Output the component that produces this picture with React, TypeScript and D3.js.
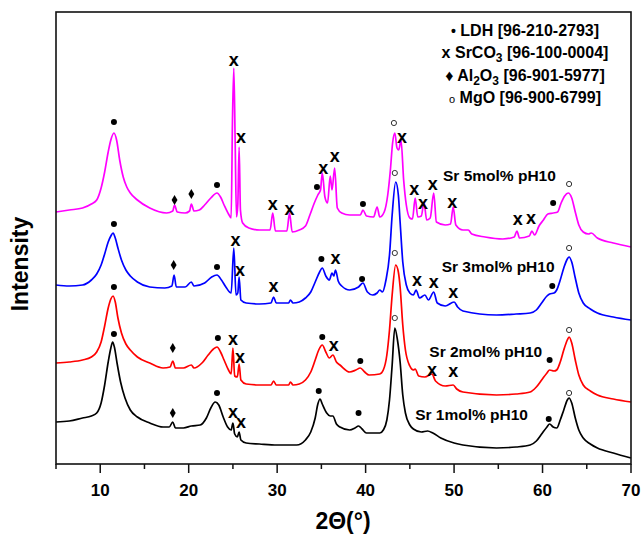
import React from "react";
import * as d3 from "d3";

// ---- data (2θ in degrees, intensity in a.u.) ----
const SR1_THETA = [5, 6.5, 8, 9, 9.6, 10.1, 10.5, 10.9, 11.2, 11.4, 11.6, 11.9, 12.3, 12.8, 13.4, 14.2, 15.6, 17.1, 17.8, 18.2, 18.5, 19.4, 20.3, 21.3, 22, 22.5, 23, 23.4, 23.9, 24.4, 24.8, 25, 25.2, 25.5, 25.7, 25.9, 26.5, 28, 30, 32.2, 33.2, 33.8, 34.3, 34.6, 34.85, 35.1, 35.6, 36, 36.3, 36.7, 37.1, 38.2, 38.8, 39.2, 39.6, 40.1, 41.6, 42, 42.4, 42.7, 43, 43.3, 43.6, 43.9, 44.2, 44.5, 45, 45.4, 46.3, 47, 47.6, 48.5, 50, 51, 54.8, 57, 58.6, 59.3, 59.9, 60.5, 60.8, 61.2, 61.6, 62, 62.4, 62.8, 63, 63.3, 63.7, 64.1, 64.6, 65.4, 66.2, 68, 70];
const SR1_I = [42, 43, 46, 48, 51, 61, 79, 102, 116, 122, 117, 101, 82, 66, 54, 47, 41, 37, 37, 42, 36, 36, 38, 39, 46, 56, 62, 59, 47, 37, 34, 41, 30, 27, 32, 24, 21, 20, 19, 19, 24, 32, 46, 60, 65, 60, 51, 48, 48, 40, 37, 34, 36, 38, 35, 31, 31, 34, 44, 64, 99, 136, 124, 102, 69, 51, 39, 35, 32, 33, 31, 26, 21, 19, 16, 17, 19, 23, 30, 37, 40, 37, 36, 44, 54, 64, 66, 61, 46, 34, 26, 20, 16, 11, 6];

const SR2_THETA = [5, 6.5, 8, 9, 9.6, 10.1, 10.5, 10.9, 11.2, 11.45, 11.7, 12, 12.4, 12.9, 13.4, 14.2, 15.6, 17.1, 17.9, 18.2, 18.5, 19.4, 20.3, 20.6, 21.5, 22.2, 22.8, 23.2, 23.6, 24, 24.5, 24.8, 25, 25.2, 25.5, 25.7, 25.9, 26.5, 28, 29.3, 29.6, 29.9, 31.3, 31.5, 31.8, 32.5, 33.2, 33.8, 34.3, 34.7, 35.1, 35.5, 35.9, 36.3, 36.7, 37.1, 38.2, 38.9, 39.4, 39.9, 40.4, 41.6, 42, 42.4, 42.7, 43, 43.4, 43.7, 43.9, 44.2, 44.5, 45, 45.4, 45.6, 46, 46.7, 47.5, 47.9, 49, 49.9, 50.3, 51, 54.8, 57, 58.6, 59.3, 59.9, 60.5, 60.8, 61.3, 61.6, 62, 62.4, 62.8, 63, 63.3, 63.7, 64.1, 64.6, 65.4, 66.2, 68, 70];
const SR2_I = [101, 102, 104, 107, 112, 122, 138, 156, 165, 168, 162, 146, 131, 120, 114, 107, 101, 96, 97, 103, 96, 96, 99, 96, 101, 109, 115, 117, 112, 104, 94, 90, 116, 88, 87, 100, 84, 80, 79, 79, 83, 79, 79, 82, 79, 80, 84, 92, 104, 114, 119, 112, 106, 109, 102, 99, 92, 94, 96, 92, 89, 90, 94, 109, 134, 169, 199, 192, 177, 139, 114, 98, 94, 95, 88, 87, 90, 83, 78, 79, 75, 72, 69, 70, 72, 77, 84, 91, 94, 93, 94, 102, 114, 124, 127, 121, 104, 89, 79, 73, 69, 65, 62];

const SR3_THETA = [5, 6.5, 8, 9, 9.6, 10.1, 10.5, 10.9, 11.2, 11.45, 11.7, 12, 12.4, 12.9, 13.4, 14.2, 15.6, 17.3, 18.1, 18.35, 18.6, 19.6, 20.3, 20.6, 21.8, 22.6, 23.2, 23.7, 24.2, 24.8, 25.1, 25.35, 25.55, 25.7, 25.9, 26.5, 28, 29.3, 29.6, 29.9, 31.3, 31.5, 31.8, 32.5, 33.2, 33.8, 34.3, 34.8, 35.1, 35.5, 35.9, 36.2, 36.4, 36.6, 36.9, 37.3, 38.2, 39.2, 39.7, 40.2, 40.8, 41.3, 41.6, 41.9, 42.3, 42.7, 43, 43.4, 43.7, 43.9, 44.2, 44.6, 45, 45.4, 45.7, 46.1, 46.7, 47.1, 47.7, 48.1, 49, 50, 50.4, 51, 54.8, 57, 58.6, 59.3, 59.9, 60.5, 60.8, 61.3, 61.6, 62, 62.4, 62.8, 63, 63.3, 63.7, 64.1, 64.6, 65.4, 66.2, 68, 70];
const SR3_I = [179, 178, 179, 184, 190, 199, 210, 222, 228, 231, 226, 216, 204, 194, 188, 182, 177, 176, 178, 189, 177, 177, 182, 178, 181, 187, 189, 184, 177, 171, 216, 169, 171, 187, 164, 161, 160, 161, 167, 161, 161, 164, 161, 162, 166, 172, 182, 192, 196, 188, 184, 191, 188, 194, 183, 178, 174, 177, 181, 172, 169, 171, 174, 172, 184, 209, 249, 282, 269, 242, 202, 179, 171, 169, 174, 166, 169, 164, 172, 161, 158, 162, 157, 153, 149, 150, 151, 154, 161, 168, 170, 171, 174, 184, 196, 205, 207, 202, 186, 171, 161, 155, 151, 147, 144];

const SR5_THETA = [5, 6.5, 8, 9, 9.6, 10.1, 10.5, 10.9, 11.2, 11.55, 11.85, 12.2, 12.6, 13, 13.4, 14.2, 15.6, 17.5, 18.2, 18.4, 18.7, 19.6, 20.1, 20.3, 20.6, 21.2, 21.8, 22.5, 23.2, 23.6, 24, 24.5, 24.8, 24.95, 25.1, 25.25, 25.4, 25.55, 25.7, 25.85, 26.1, 26.8, 28, 29.2, 29.5, 29.8, 31.1, 31.4, 31.7, 32.5, 33.2, 33.7, 34.2, 34.6, 34.9, 35.1, 35.4, 35.7, 36, 36.2, 36.5, 36.8, 37.3, 38.2, 39.4, 39.7, 40.1, 40.9, 41.3, 41.6, 42.1, 42.5, 42.8, 43.05, 43.3, 43.55, 43.75, 44, 44.3, 44.6, 45, 45.3, 45.6, 45.9, 46.3, 46.6, 46.9, 47.3, 47.7, 48, 49, 49.6, 49.9, 50.2, 51, 51.6, 52, 53.5, 55.5, 56.8, 57.1, 57.4, 58.5, 58.8, 59.1, 59.6, 60.1, 60.6, 61.2, 61.7, 62.1, 62.5, 62.9, 63.3, 63.7, 64.1, 64.6, 65.2, 65.5, 66.2, 68, 70];
const SR5_I = [252, 254, 256, 260, 264, 276, 292, 312, 324, 331, 324, 304, 287, 277, 271, 264, 256, 251, 253, 259, 252, 251, 253, 260, 253, 254, 259, 266, 271, 267, 259, 250, 246, 344, 396, 324, 247, 259, 317, 254, 241, 236, 234, 234, 251, 233, 233, 251, 232, 234, 238, 249, 261, 269, 274, 291, 267, 261, 288, 274, 296, 256, 251, 249, 249, 254, 248, 247, 257, 247, 252, 269, 294, 321, 331, 316, 314, 324, 284, 259, 246, 245, 266, 247, 248, 262, 244, 246, 271, 242, 239, 240, 257, 239, 234, 234, 230, 227, 225, 227, 233, 226, 228, 233, 229, 238, 244, 250, 251, 252, 261, 268, 271, 266, 252, 239, 232, 230, 231, 226, 221, 217];

// phase markers: [2θ, intensity, phase]  (d = LDH, x = SrCO3, a = Al2O3, m = MgO)
const SR5_MARKS: [number, number, string][] = [[11.55, 342, "d"], [18.4, 264, "a"], [20.3, 270, "a"], [23.2, 279, "d"], [25.1, 403, "x"], [25.9, 326, "x"], [29.5, 259, "x"], [31.4, 254, "x"], [34.5, 277, "d"], [35.2, 295, "x"], [36.5, 307, "x"], [39.7, 260, "d"], [43.2, 341, "m"], [44.1, 326, "x"], [45.5, 274, "x"], [46.5, 260, "x"], [47.6, 279, "x"], [49.8, 261, "x"], [57.2, 244, "x"], [58.7, 245, "x"], [61.2, 261, "d"], [63.0, 280, "m"]];
const SR3_MARKS: [number, number, string][] = [[11.55, 240, "d"], [18.3, 199, "a"], [23.2, 197, "d"], [25.3, 223, "x"], [25.8, 193, "x"], [29.6, 177, "x"], [35.0, 205, "d"], [36.6, 205, "x"], [39.6, 185, "d"], [43.3, 291, "m"], [45.8, 183, "x"], [47.7, 181, "x"], [49.9, 171, "x"], [61.1, 178, "d"], [63.0, 216, "m"]];
const SR2_MARKS: [number, number, string][] = [[11.55, 177, "d"], [18.2, 116, "a"], [23.3, 126, "d"], [25.0, 124, "x"], [25.8, 106, "x"], [35.1, 127, "d"], [36.4, 118, "x"], [39.4, 103, "d"], [43.3, 211, "m"], [47.5, 93, "x"], [49.9, 92, "x"], [60.8, 104, "d"], [63.0, 134, "m"]];
const SR1_MARKS: [number, number, string][] = [[11.55, 130, "d"], [18.2, 51, "a"], [23.2, 71, "d"], [25.0, 51, "x"], [25.9, 41, "x"], [34.7, 73, "d"], [39.2, 51, "d"], [43.3, 146, "m"], [60.7, 45, "d"], [63.0, 71, "m"]];

const SERIES_NAMES = ["Sr 1mol% pH10", "Sr 2mol% pH10", "Sr 3mol% pH10", "Sr 5mol% pH10"];
const SERIES_COLORS = ["#000000", "#ff0000", "#0000ff", "#ff00ff"];
const LABEL_POS: [number, number][] = [[45.6, 50], [47.2, 113], [48.6, 198], [48.75, 289]];

const X_MAJOR = [10, 20, 30, 40, 50, 60, 70];
const X_MINOR = [5, 15, 25, 35, 45, 55, 65];

const LEGEND = [
  { sym: "•", name: "LDH", sub: null as null | string[], code: "[96-210-2793]" },
  { sym: "x", name: "SrCO", sub: ["3"], code: "[96-100-0004]" },
  { sym: "♦", name: "Al", sub: ["2", "O", "3"], code: "[96-901-5977]" },
  { sym: "o", name: "MgO ", sub: null, code: "[96-900-6799]" },
];

const W = 643, H = 536;
const L = 56, R = 631, T = 12, B = 464;
const FONT = "Arial, 'Liberation Sans', Helvetica, sans-serif";

export default function App() {
  const x = d3.scaleLinear().domain([5, 70]).range([L, R]);
  const y = d3.scaleLinear().domain([0, 452]).range([B, T]);
  const line = d3
    .line<[number, number]>()
    .x((d) => x(d[0]))
    .y((d) => y(d[1]))
    .curve(d3.curveMonotoneX);

  const series = [
    { th: SR1_THETA, v: SR1_I, marks: SR1_MARKS },
    { th: SR2_THETA, v: SR2_I, marks: SR2_MARKS },
    { th: SR3_THETA, v: SR3_I, marks: SR3_MARKS },
    { th: SR5_THETA, v: SR5_I, marks: SR5_MARKS },
  ];
  const diamond = d3.symbol(d3.symbolDiamond, 30)() as string;

  const renderMark = (m: [number, number, string], k: string) => {
    const cx = x(m[0]);
    const cy = y(m[1]);
    if (m[2] === "d") return <circle key={k} cx={cx} cy={cy} r={3} fill="#000" />;
    if (m[2] === "m")
      return <circle key={k} cx={cx} cy={cy} r={2.6} fill="#fff" stroke="#333" strokeWidth={1} />;
    if (m[2] === "a") return <path key={k} d={diamond} transform={`translate(${cx},${cy})`} fill="#000" />;
    return (
      <text key={k} x={cx} y={cy + 4.5} textAnchor="middle" fontSize={18} fontWeight="bold" fontFamily={FONT} fill="#000">
        x
      </text>
    );
  };

  return (
    <svg width={W} height={H} style={{ position: "absolute", left: 0, top: 0, display: "block", background: "#fff" }}>
      <rect x={0} y={0} width={W} height={H} fill="#fff" />
      {series.map((s, i) => (
        <path
          key={"s" + i}
          d={line(s.th.map((t, j) => [t, s.v[j]] as [number, number])) as string}
          fill="none"
          stroke={SERIES_COLORS[i]}
          strokeWidth={1.7}
          strokeLinejoin="round"
        />
      ))}
      {series.map((s, i) => s.marks.map((m, j) => renderMark(m, `m${i}-${j}`)))}
      {SERIES_NAMES.map((n, i) => (
        <text key={"n" + i} x={x(LABEL_POS[i][0])} y={y(LABEL_POS[i][1]) + 5.5} fontSize={15.5} fontWeight="bold" fontFamily={FONT} fill="#000">
          {n}
        </text>
      ))}
      {/* legend */}
      {LEGEND.map((lg, i) => (
        <text key={"lg" + i} x={525} y={35.5 + i * 22.5} textAnchor="middle" fontSize={16} fontWeight="bold" fontFamily={FONT} fill="#000">
          <tspan fontWeight={lg.sym === "o" ? "normal" : "bold"} fontSize={lg.sym === "o" ? 11 : lg.sym === "•" ? 14 : 16}>
            {lg.sym}
          </tspan>
          <tspan> {lg.name}</tspan>
          {lg.name === "SrCO" && (
            <tspan fontSize={12} dy={4}>
              3
            </tspan>
          )}
          {lg.name === "Al" && (
            <>
              <tspan fontSize={12} dy={4}>2</tspan>
              <tspan dy={-4}>O</tspan>
              <tspan fontSize={12} dy={4}>3</tspan>
            </>
          )}
          <tspan dy={lg.sub ? -4 : 0}>{" " + lg.code}</tspan>
        </text>
      ))}
      {/* frame */}
      <rect x={L} y={T} width={R - L} height={B - T} fill="none" stroke="#111" strokeWidth={1.6} />
      {X_MAJOR.map((t) => (
        <line key={"M" + t} x1={x(t)} x2={x(t)} y1={B} y2={B + 9} stroke="#111" strokeWidth={1.5} />
      ))}
      {X_MINOR.map((t) => (
        <line key={"m" + t} x1={x(t)} x2={x(t)} y1={B} y2={B + 5} stroke="#111" strokeWidth={1.5} />
      ))}
      {X_MAJOR.map((t) => (
        <text key={"t" + t} x={x(t)} y={496} textAnchor="middle" fontSize={17} fontWeight="bold" fontFamily={FONT} fill="#000">
          {t}
        </text>
      ))}
      <text x={343} y={529} textAnchor="middle" fontSize={23} fontWeight="bold" fontFamily={FONT} fill="#000">
        2Θ(°)
      </text>
      <text transform="translate(28,264) rotate(-90)" textAnchor="middle" fontSize={23} fontWeight="bold" fontFamily={FONT} fill="#000">
        Intensity
      </text>
    </svg>
  );
}
